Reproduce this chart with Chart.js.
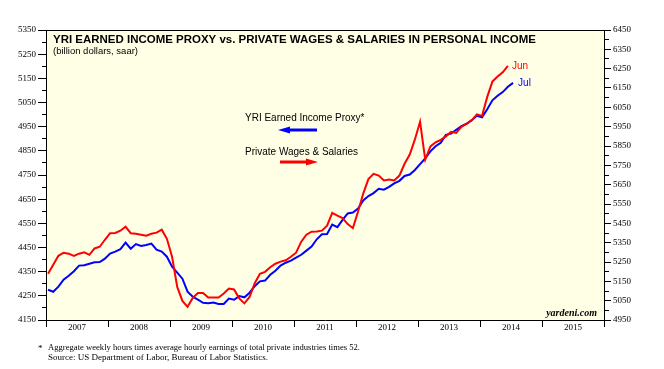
<!DOCTYPE html>
<html>
<head>
<meta charset="utf-8">
<script src="https://cdn.jsdelivr.net/npm/chart.js@4/dist/chart.umd.min.js"></script>
<style>
  html, body { margin: 0; padding: 0; background: #fff; }
  #wrap { width: 664px; height: 369px; }
</style>
</head>
<body>
<div id="wrap"><canvas id="c" width="664" height="369"></canvas></div>
<script>
// monthly values, Jan 2007 onwards
const firstYear = 2007
const years = [2007, 2008, 2009, 2010, 2011, 2012, 2013, 2014, 2015]

// YRI Earned Income Proxy (left axis), Jan 2007 - Jul 2014
const proxy = [
  4275, 4267, 4288, 4317, 4333, 4352, 4375, 4377, 4383, 4389, 4390, 4404,
  4425, 4433, 4443, 4470, 4445, 4464, 4456, 4460, 4466, 4441, 4433, 4412,
  4371, 4346, 4321, 4267, 4246, 4234, 4221, 4219, 4222, 4216, 4216, 4239,
  4234, 4249, 4244, 4263, 4290, 4310, 4313, 4337, 4354, 4375, 4387, 4396,
  4408, 4420, 4437, 4454, 4484, 4505, 4506, 4545, 4534, 4564, 4591, 4595,
  4611, 4645, 4663, 4675, 4693, 4689, 4701, 4715, 4726, 4746, 4752, 4771,
  4795, 4819, 4848, 4869, 4883, 4916, 4921, 4937, 4952, 4962, 4977, 4995,
  4989, 5022, 5059, 5078, 5093, 5115, 5131,
]

// Private wages & salaries (right axis), Jan 2007 - Jun 2014
const wages = [
  5189, 5236, 5282, 5298, 5293, 5282, 5293, 5300, 5287, 5320, 5329, 5365,
  5399, 5400, 5412, 5433, 5399, 5396, 5391, 5386, 5396, 5402, 5417, 5370,
  5277, 5121, 5049, 5018, 5064, 5090, 5090, 5066, 5066, 5066, 5087, 5113,
  5108, 5062, 5036, 5069, 5140, 5189, 5199, 5223, 5241, 5252, 5259, 5277,
  5298, 5355, 5391, 5407, 5408, 5412, 5438, 5504, 5490, 5477, 5446, 5425,
  5511, 5604, 5679, 5706, 5697, 5672, 5677, 5672, 5697, 5758, 5806, 5884,
  5975, 5780, 5848, 5869, 5882, 5900, 5923, 5918, 5949, 5965, 5983, 6014,
  6006, 6104, 6183, 6209, 6231, 6265,
]

const leftTicks = [4150, 4250, 4350, 4450, 4550, 4650, 4750, 4850, 4950, 5050, 5150, 5250, 5350]
const rightTicks = [4950, 5050, 5150, 5250, 5350, 5450, 5550, 5650, 5750, 5850, 5950, 6050, 6150, 6250, 6350, 6450]

const BLUE = '#0000FF'
const RED = '#FF0000'
const SANS = "'Liberation Sans', Arial, sans-serif"
const SERIF = "'Liberation Serif', 'Times New Roman', serif"

const toPoints = arr => arr.map((v, i) => ({ x: firstYear + (i + 0.4) / 12, y: v }))

// major ticks plus the unlabelled minor ticks halfway between
function withMinor(list) {
  const out = []
  list.forEach((v, i) => {
    out.push({ value: v })
    if (i < list.length - 1) out.push({ value: (v + list[i + 1]) / 2 })
  })
  return out
}

function arrow(ctx, from, to, y, color) {
  const dir = Math.sign(to - from)
  ctx.strokeStyle = color
  ctx.fillStyle = color
  ctx.lineWidth = 3
  ctx.beginPath()
  ctx.moveTo(from, y)
  ctx.lineTo(to - dir * 10, y)
  ctx.stroke()
  ctx.beginPath()
  ctx.moveTo(to, y)
  ctx.lineTo(to - dir * 12, y - 3.5)
  ctx.lineTo(to - dir * 12, y + 3.5)
  ctx.closePath()
  ctx.fill()
}

const decor = {
  id: 'decor',
  beforeDraw(chart) {
    const { ctx, chartArea: a } = chart
    ctx.save()
    ctx.fillStyle = '#FFFFE6'
    ctx.fillRect(a.left, a.top, a.right - a.left, a.bottom - a.top)
    ctx.restore()
  },
  afterDraw(chart) {
    const { ctx, chartArea: a, scales } = chart
    ctx.save()
    ctx.strokeStyle = '#000'
    ctx.lineWidth = 1
    ctx.beginPath()
    ctx.moveTo(a.left, a.top + 0.5)
    ctx.lineTo(a.right, a.top + 0.5)
    ctx.stroke()

    ctx.textAlign = 'left'
    ctx.textBaseline = 'alphabetic'
    ctx.fillStyle = '#000'
    ctx.font = `bold 11.5px ${SANS}`
    ctx.fillText('YRI EARNED INCOME PROXY vs. PRIVATE WAGES & SALARIES IN PERSONAL INCOME', 53, 43, 483)
    ctx.font = `9.5px ${SANS}`
    ctx.fillText('(billion dollars, saar)', 53, 54, 92)

    ctx.font = `10px ${SANS}`
    ctx.fillText('YRI Earned Income Proxy*', 245, 121, 121)
    ctx.fillText('Private Wages & Salaries', 245, 155, 116)
    arrow(ctx, 317, 278, 130, BLUE)
    arrow(ctx, 280, 318, 162, RED)

    // end-of-series month labels
    const x = scales.x
    const lastW = wages.length - 1
    const lastP = proxy.length - 1
    ctx.font = `10px ${SANS}`
    ctx.fillStyle = RED
    ctx.fillText('Jun', x.getPixelForValue(firstYear + (lastW + 0.4) / 12) + 4,
      scales.y1.getPixelForValue(wages[lastW]) + 3)
    ctx.fillStyle = BLUE
    ctx.fillText('Jul', x.getPixelForValue(firstYear + (lastP + 0.4) / 12) + 5,
      scales.y.getPixelForValue(proxy[lastP]) + 3)

    ctx.fillStyle = '#000'
    ctx.textAlign = 'right'
    ctx.font = `italic bold 10px ${SERIF}`
    ctx.fillText('yardeni.com', 597, 316)

    ctx.textAlign = 'left'
    ctx.font = `9px ${SERIF}`
    ctx.fillText('*', 38, 351)
    ctx.fillText('Aggregate weekly hours times average hourly earnings of total private industries times 52.', 48, 350, 312)
    ctx.fillText('Source: US Department of Labor, Bureau of Labor Statistics.', 48, 360, 224)
    ctx.restore()
  },
}

const tickFont = { family: SERIF, size: 9 }

new Chart(document.getElementById('c'), {
  type: 'line',
  data: {
    datasets: [
      { label: 'Private Wages & Salaries', data: toPoints(wages), yAxisID: 'y1', borderColor: RED, borderWidth: 2, pointRadius: 0, tension: 0, order: 0 },
      { label: 'YRI Earned Income Proxy', data: toPoints(proxy), yAxisID: 'y', borderColor: BLUE, borderWidth: 2, pointRadius: 0, tension: 0, order: 1 },
    ],
  },
  options: {
    responsive: false,
    animation: false,
    layout: { padding: { top: 30, left: 0, right: 0, bottom: 0 } },
    plugins: { legend: { display: false }, tooltip: { enabled: false }, title: { display: false } },
    scales: {
      x: {
        type: 'linear',
        position: 'bottom',
        min: firstYear,
        max: years[years.length - 1] + 1,
        afterBuildTicks: s => {
          const t = []
          years.forEach(y => { t.push({ value: y }); t.push({ value: y + 0.5 }) })
          t.push({ value: years[years.length - 1] + 1 })
          s.ticks = t
        },
        afterFit: s => { s.height = 49 },
        grid: {
          drawOnChartArea: false,
          tickLength: 7,
          tickColor: c => (c.tick && c.tick.value % 1 === 0 ? '#000' : 'rgba(0,0,0,0)'),
        },
        border: { color: '#000', width: 1 },
        ticks: {
          autoSkip: false,
          maxRotation: 0,
          padding: -5,
          color: '#000',
          font: tickFont,
          callback: v => (v % 1 === 0.5 ? String(Math.floor(v)) : ''),
        },
      },
      y: {
        type: 'linear',
        position: 'left',
        min: leftTicks[0],
        max: leftTicks[leftTicks.length - 1],
        afterBuildTicks: s => { s.ticks = withMinor(leftTicks) },
        afterFit: s => { s.width = 46 },
        grid: {
          drawOnChartArea: false,
          tickLength: 8,
          tickColor: '#000',
          tickBorderDash: c => (c.tick && leftTicks.includes(c.tick.value) ? [] : [4, 20]),
          tickBorderDashOffset: c => (c.tick && leftTicks.includes(c.tick.value) ? 0 : 20),
        },
        border: { color: '#000', width: 1 },
        ticks: {
          autoSkip: false,
          padding: 2,
          color: '#000',
          font: tickFont,
          callback: v => (leftTicks.includes(v) ? String(v) : ''),
        },
      },
      y1: {
        type: 'linear',
        position: 'right',
        min: rightTicks[0],
        max: rightTicks[rightTicks.length - 1],
        afterBuildTicks: s => { s.ticks = withMinor(rightTicks) },
        afterFit: s => { s.width = 60 },
        grid: {
          drawOnChartArea: false,
          tickLength: 7,
          tickColor: '#000',
          tickBorderDash: c => (c.tick && rightTicks.includes(c.tick.value) ? [] : [4, 20]),
        },
        border: { color: '#000', width: 1 },
        ticks: {
          autoSkip: false,
          padding: 2,
          color: '#000',
          font: tickFont,
          callback: v => (rightTicks.includes(v) ? String(v) : ''),
        },
      },
    },
  },
  plugins: [decor],
})
</script>
</body>
</html>
